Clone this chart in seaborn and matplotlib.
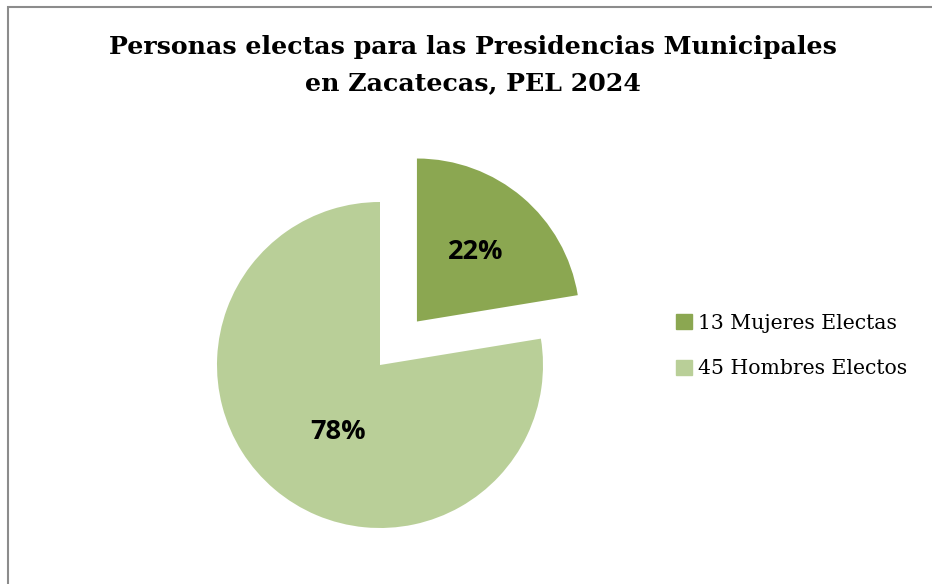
import matplotlib
matplotlib.use("Agg")
import matplotlib.pyplot as plt
import matplotlib.patches as mpatches
import seaborn as sns

# Data
categorias = ["13 Mujeres Electas", "45 Hombres Electos"]
valores = [13, 45]
colores = ["#8BA751", "#B9CF98"]
titulo = "Personas electas para las Presidencias Municipales\nen Zacatecas, PEL 2024"

sns.set_theme(style="white")
plt.rcParams["font.family"] = ["DejaVu Serif"]
plt.rcParams["text.color"] = "black"

W, H = 932, 584
fig = plt.figure(figsize=(W / 100, H / 100), dpi=100)

# pie axes: radius 1 = 163 px, centered at (380, 365) from top
R = 163
cx, cy = 380, H - 365
half = 200
ax = fig.add_axes([(cx - half) / W, (cy - half) / H, 2 * half / W, 2 * half / H])

wedges, textos, pcts = ax.pie(
    valores, colors=colores, startangle=90, counterclock=False,
    explode=[0.35, 0], radius=1, autopct="%1.0f%%", pctdistance=0.56,
    wedgeprops=dict(linewidth=0),
)
ax.set_xlim(-half / R, half / R)
ax.set_ylim(-half / R, half / R)
ax.set_aspect("equal")
ax.axis("off")

for t in pcts:
    t.set_fontfamily("Open Sans")
    t.set_fontweight("bold")
    t.set_fontsize(19.5)
    t.set_color("black")
# big slice label sits off its mid angle, like the original
pcts[1].set_position((-0.258, -0.411))

# title
fig.text(473 / W, 1 - 65 / H, titulo, ha="center", va="center",
         fontsize=18.2, fontweight="bold", linespacing=1.6, color="black")

# legend
handles = [mpatches.Patch(color=c, label=l) for c, l in zip(colores, categorias)]
fig.legend(handles=handles, loc="center left", bbox_to_anchor=(658 / W, 1 - 346 / H),
           frameon=False, fontsize=14.7, handlelength=0.75, handleheight=0.75,
           handletextpad=0.3, labelspacing=1.3, labelcolor="black")

# chart border (only top and left visible in crop)
fig.add_artist(mpatches.Rectangle((7.5 / W, -0.1), 1.2, (H - 6.5) / H + 0.1,
                                  transform=fig.transFigure, fill=False,
                                  edgecolor="#8c8c8c", linewidth=1.5))

fig.savefig("out.png", dpi=100, facecolor="white")
